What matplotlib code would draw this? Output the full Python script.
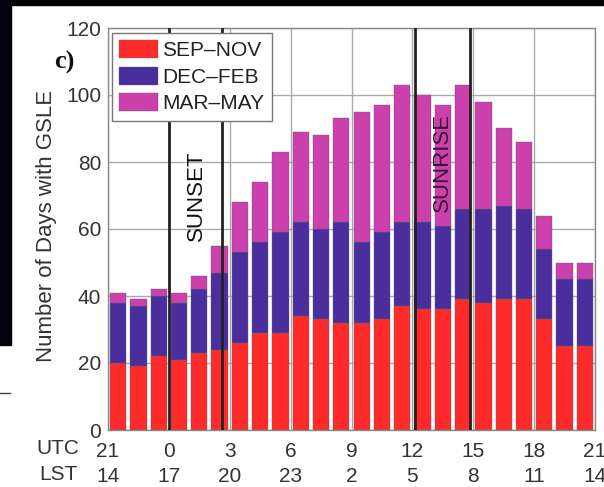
import matplotlib
matplotlib.use("Agg")
import matplotlib.pyplot as plt
import numpy as np
from matplotlib.patches import Rectangle
from matplotlib.lines import Line2D

# ---- data ----
utc_hours = [21, 22, 23, 0, 1, 2, 3, 4, 5, 6, 7, 8, 9, 10, 11, 12, 13, 14, 15, 16, 17, 18, 19, 20]
sep_nov = [20, 19, 22, 21, 23, 24, 26, 29, 29, 34, 33, 32, 32, 33, 37, 36, 36, 39, 38, 39, 39, 33, 25, 25]
cum_dec = [38, 37, 40, 38, 42, 47, 53, 56, 59, 62, 60, 62, 56, 59, 62, 62, 61, 66, 66, 67, 66, 54, 45, 45]
totals = [41, 39, 42, 41, 46, 55, 68, 74, 83, 89, 88, 93, 95, 97, 103, 100, 97, 103, 98, 90, 86, 64, 50, 50]
dec_feb = [c - s for c, s in zip(cum_dec, sep_nov)]
mar_may = [t - c for t, c in zip(totals, cum_dec)]
series_labels = ["SEP\u2013NOV", "DEC\u2013FEB", "MAR\u2013MAY"]
utc_ticks = ["21", "0", "3", "6", "9", "12", "15", "18", "21"]
lst_ticks = ["14", "17", "20", "23", "2", "5", "8", "11", "14"]
sunset_lines = [3.0, 5.6]
sunrise_lines = [15.15, 17.85]

colors = ["#FF2B2B", "#4B2E9E", "#CC40AE"]

plt.rcParams['font.family'] = ['Liberation Sans', 'DejaVu Sans']

fig = plt.figure(figsize=(6.04, 4.87), dpi=100)
W, H = 604, 487
ax = fig.add_axes([108 / W, 1 - 430 / H, (595 - 108) / W, (430 - 28) / H])

x = np.arange(len(utc_hours)) + 0.5
b0 = np.zeros(len(x))
for vals, col, lab in zip([sep_nov, dec_feb, mar_may], colors, series_labels):
    ax.bar(x, vals, width=0.8, bottom=b0, color=col, edgecolor="#666666",
           linewidth=0.3, label=lab, zorder=2)
    b0 = b0 + np.array(vals)

for xv in sunset_lines + sunrise_lines:
    ax.axvline(xv, color="#222222", linewidth=2.0, zorder=3)

ax.set_xlim(0, 24)
ax.set_ylim(0, 120)
ax.set_xticks(np.arange(0, 25, 3))
ax.set_xticklabels([f"{u}\n{l}" for u, l in zip(utc_ticks, lst_ticks)])
for t in ax.get_xticklabels():
    t.set_linespacing(1.4)
ax.set_yticks(np.arange(0, 121, 20))
ax.grid(True, color="#AAAAAA", linewidth=1.0, zorder=0)
ax.set_axisbelow(True)
ax.tick_params(axis="both", length=0, labelsize=15, labelcolor="#333333")
ax.tick_params(axis="y", pad=5)
ax.tick_params(axis="x", pad=8.5)
for s in ax.spines.values():
    s.set_color("#888888")
    s.set_linewidth(1.0)

ax.set_ylabel("Number of Days with GSLE", fontsize=16, color="#333333")
ax.yaxis.set_label_coords((57 - 108) / 487, 0.507)

ax.text(4.34, 70, "SUNSET", rotation=90, fontsize=16, color="#111111",
        ha="center", va="center", zorder=4)
ax.text(16.5, 80, "SUNRISE", rotation=90, fontsize=16, color="#3a0f3a",
        ha="center", va="center", zorder=4)

leg = ax.legend(loc="upper left", bbox_to_anchor=(0.008, 0.9876), fontsize=15,
                handlelength=1.875, handleheight=0.96, handletextpad=0.2,
                labelspacing=0.3, borderpad=0.35, borderaxespad=0.0,
                frameon=True, fancybox=False, framealpha=1.0)
leg.get_frame().set_edgecolor("#777777")
leg.get_frame().set_linewidth(1.0)
for t in leg.get_texts():
    t.set_color("#222222")

# row labels
fig.text(58 / W, 1 - 449 / H, "UTC", fontsize=15, color="#333333", ha="center", va="center")
fig.text(58 / W, 1 - 474 / H, "LST", fontsize=15, color="#333333", ha="center", va="center")

# panel label
fig.text(64 / W, 1 - 62 / H, "c)", fontsize=19, fontweight="bold",
         family="Liberation Serif", ha="center", va="center", color="#111111")

# screenshot border artifacts
fig.patches.append(Rectangle((0, 1 - 5 / H), 1, 5 / H, transform=fig.transFigure,
                             color="black", zorder=10))
fig.patches.append(Rectangle((0, 1 - 345 / H), 11 / W, 345 / H, transform=fig.transFigure,
                             color="#05030c", zorder=10))
fig.lines.append(Line2D([0, 10 / W], [1 - 393 / H, 1 - 393 / H], transform=fig.transFigure,
                        color="#444444", linewidth=1.0))

fig.savefig("out.png", dpi=100)
